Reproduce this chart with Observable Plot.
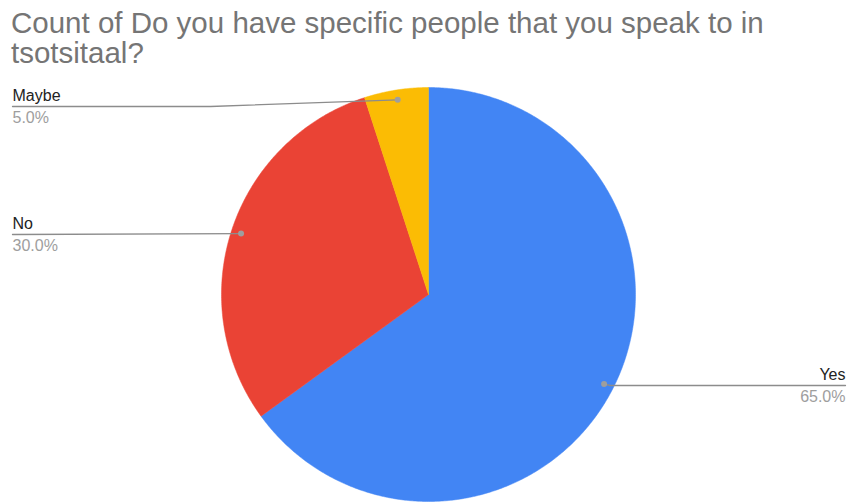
<!DOCTYPE html>
<html>
<head>
<meta charset="utf-8">
<script src="https://cdn.jsdelivr.net/npm/d3@7"></script>
<script src="https://cdn.jsdelivr.net/npm/@observablehq/plot@0.6"></script>
<style>
  html, body { margin: 0; padding: 0; background: #fff; }
  #title {
    font-family: "Liberation Sans", Arial, sans-serif;
    font-size: 29.5px; line-height: 30px; color: #757575;
    height: 64px; padding: 8px 0 0 11px; box-sizing: content-box;
    white-space: nowrap;
  }
  #chart svg { display: block; }
</style>
</head>
<body>
<div id="title">Count of Do you have specific people that you speak to in<br>tsotsitaal?</div>
<div id="chart"></div>
<script>
// ---- data ----
const categories = ["Yes", "No", "Maybe"];
const values = [65, 30, 5];
const colors = ["#4285F4", "#EA4335", "#FBBC04"];

// ---- layout (page pixels) ----
const W = 847, H = 502, TOP = 72;
const cx = 428, cy = 294 - TOP, R = 207;
const dotR = 0.952 * R;
// label layout: side, horizontal line y, elbow x
const labelLayout = [
  {side: "right", lineY: 385 - TOP, x: 845},
  {side: "left",  lineY: 234 - TOP, x: 12},
  {side: "left",  lineY: 106 - TOP, x: 12, elbowX: 210}
];

const total = d3.sum(values);
const arcs = d3.pie().sort(null).startAngle(0).endAngle(2 * Math.PI)(values);

// slice outlines (sampled arc geometry)
const slicePts = [];
arcs.forEach((a, i) => {
  slicePts.push({k: categories[i], x: cx, y: cy});
  const n = Math.max(8, Math.ceil((a.endAngle - a.startAngle) / (Math.PI / 360)));
  for (let j = 0; j <= n; j++) {
    const t = a.startAngle + (a.endAngle - a.startAngle) * j / n;
    slicePts.push({k: categories[i], x: cx + R * Math.sin(t), y: cy - R * Math.cos(t)});
  }
  slicePts.push({k: categories[i], x: cx, y: cy});
});

// leader lines and labels
const dots = [], leader = [], labels = [];
arcs.forEach((a, i) => {
  const m = (a.startAngle + a.endAngle) / 2;
  const dx = cx + dotR * Math.sin(m), dy = cy - dotR * Math.cos(m);
  const L = labelLayout[i];
  dots.push({x: dx, y: dy});
  if (L.side === "right") {
    leader.push({k: i, x: dx, y: dy}, {k: i, x: dx + 6, y: L.lineY}, {k: i, x: L.x, y: L.lineY});
  } else {
    leader.push({k: i, x: dx, y: dy});
    if (L.elbowX) leader.push({k: i, x: L.elbowX, y: L.lineY});
    leader.push({k: i, x: L.x, y: L.lineY});
  }
  labels.push({
    x: L.x, side: L.side,
    ny: L.lineY - 6, name: categories[i],
    py: L.lineY + 16, pct: (values[i] / total * 100).toFixed(1) + "%"
  });
});
const leftL = labels.filter(d => d.side === "left");
const rightL = labels.filter(d => d.side === "right");

const chart = Plot.plot({
  width: W, height: H - TOP,
  margin: 0,
  x: {type: "identity", axis: null},
  y: {type: "identity", axis: null},
  color: {domain: categories, range: colors},
  style: {fontFamily: "'Liberation Sans', Arial, sans-serif", background: "#fff"},
  marks: [
    Plot.line(slicePts, {x: "x", y: "y", z: "k", fill: "k", stroke: "k", strokeWidth: 0.5, curve: "linear"}),
    Plot.line(leader, {x: "x", y: "y", z: "k", stroke: "#8c8c8c", strokeWidth: 1.3}),
    Plot.dot(dots, {x: "x", y: "y", r: 3, fill: "#9e9e9e", stroke: null}),
    Plot.text(leftL, {x: "x", y: "ny", text: "name", textAnchor: "start", lineAnchor: "bottom", fontSize: 16, fill: "#222222"}),
    Plot.text(leftL, {x: "x", y: "py", text: "pct", textAnchor: "start", lineAnchor: "bottom", fontSize: 16, fill: "#9e9e9e"}),
    Plot.text(rightL, {x: "x", y: "ny", text: "name", textAnchor: "end", lineAnchor: "bottom", fontSize: 16, fill: "#222222"}),
    Plot.text(rightL, {x: "x", y: "py", text: "pct", textAnchor: "end", lineAnchor: "bottom", fontSize: 16, fill: "#9e9e9e"})
  ]
});
document.getElementById("chart").appendChild(chart);
</script>
</body>
</html>
